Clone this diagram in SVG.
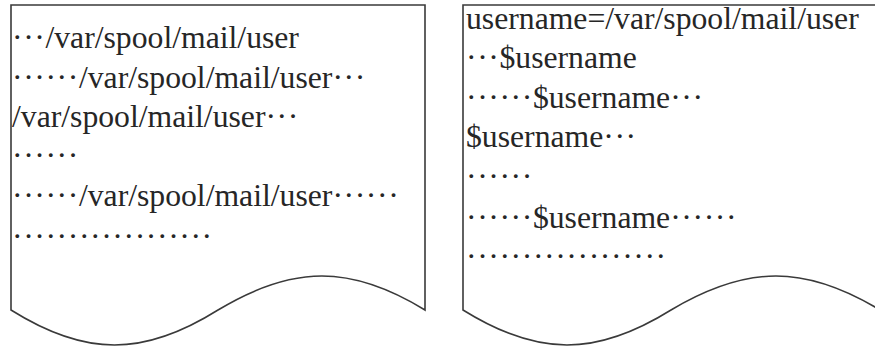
<svg xmlns="http://www.w3.org/2000/svg" width="875" height="347" viewBox="0 0 875 347">
<style>
.doc{fill:#fff;stroke:#3a3a3a;stroke-width:1.6}
.t{font-family:"Liberation Serif","Times New Roman",serif;font-size:31.7px;fill:#262626}
.d{letter-spacing:0.6px}
</style>
<rect width="875" height="347" fill="#fff"/>
<g id="doc-left">
<path class="doc" d="M11,5 H425 V310 C351,264.7 293,264.7 218,310 C143.5,356.7 85.5,356.7 11,310 Z"/>
<text class="t" x="12" y="48"><tspan class="d">···</tspan>/var/spool/mail/user</text>
<text class="t" x="12" y="88"><tspan class="d">······</tspan>/var/spool/mail/user<tspan class="d">···</tspan></text>
<text class="t" x="12" y="127">/var/spool/mail/user<tspan class="d">···</tspan></text>
<text class="t" x="12" y="166"><tspan class="d">······</tspan></text>
<text class="t" x="12" y="206"><tspan class="d">······</tspan>/var/spool/mail/user<tspan class="d">······</tspan></text>
<text class="t" x="12" y="247"><tspan class="d">··················</tspan></text>
</g>
<g id="doc-right">
<path class="doc" d="M463,5 H880 V310 C805,264.7 747,264.7 671,310 C596,356.7 538,356.7 463,310 Z"/>
<text class="t" x="466" y="29">username=/var/spool/mail/user</text>
<text class="t" x="466" y="68"><tspan class="d">···</tspan>$username</text>
<text class="t" x="466" y="108"><tspan class="d">······</tspan>$username<tspan class="d">···</tspan></text>
<text class="t" x="466" y="147">$username<tspan class="d">···</tspan></text>
<text class="t" x="466" y="187"><tspan class="d">······</tspan></text>
<text class="t" x="466" y="228"><tspan class="d">······</tspan>$username<tspan class="d">······</tspan></text>
<text class="t" x="466" y="267"><tspan class="d">··················</tspan></text>
</g>
</svg>
